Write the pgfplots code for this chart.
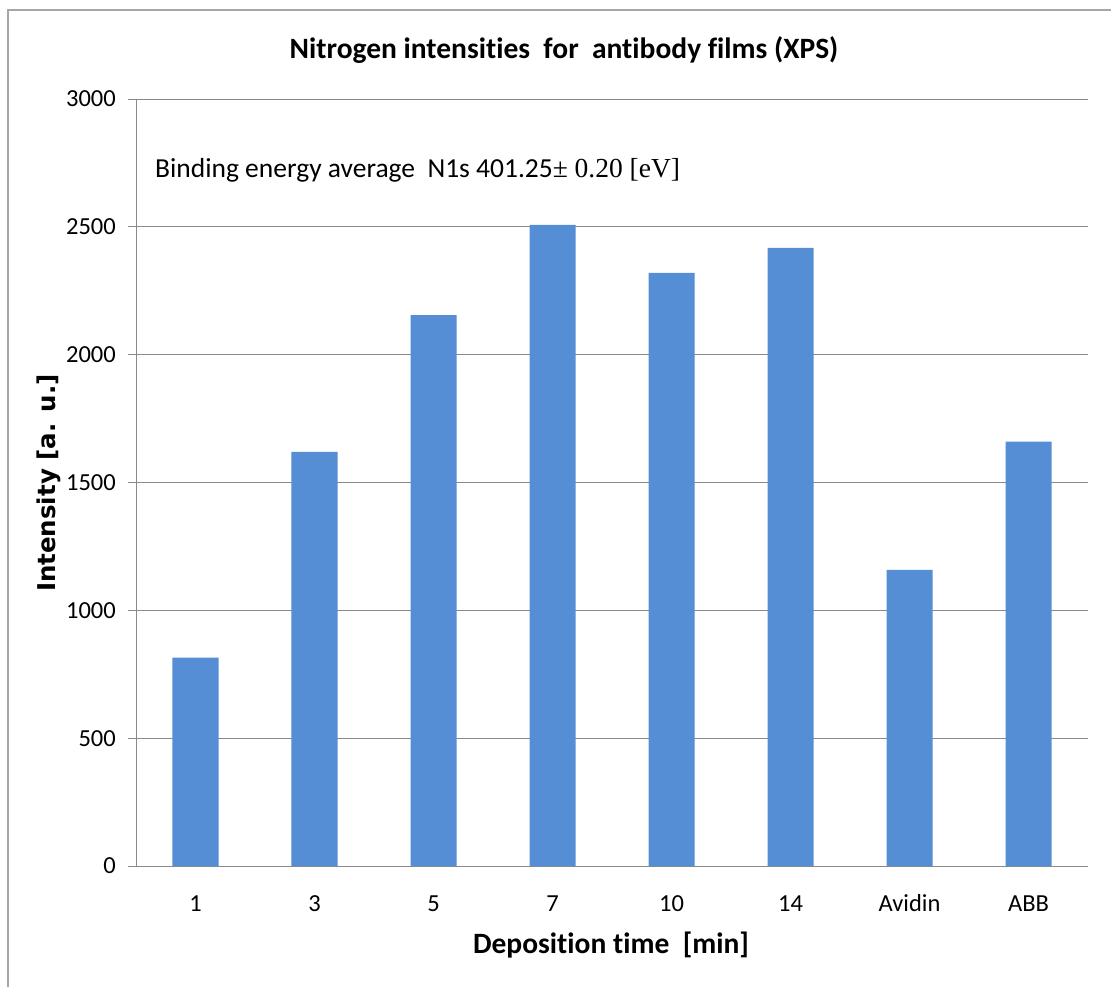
\documentclass[border=0pt]{standalone}
\usepackage{fontspec}
\setmainfont{Carlito}[Ligatures={NoCommon}]
\newfontfamily\serif{Liberation Serif}
\newfontfamily\dejavu{DejaVu Sans}
\usepackage{pgfplots}
\pgfplotsset{compat=1.18}
\definecolor{barblue}{HTML}{558ED5}
\definecolor{gridgray}{HTML}{898989}
\begin{document}
\begin{tikzpicture}[x=1pt,y=1pt]
\useasboundingbox (0,0) rectangle (1111,-987);
\fill[white] (0,0) rectangle (1111,-987);
\draw[gray!70, line width=1.5pt] (8,-987) -- (8,-10) -- (1115,-10);
\begin{axis}[
  at={(136pt,-866pt)}, anchor=south west,
  scale only axis, width=952pt, height=767pt,
  xmin=-0.5, xmax=7.5, ymin=0, ymax=3000,
  ytick={0,500,...,3000},
  xtick={0,...,7},
  xticklabels={1,3,5,7,10,14,Avidin,ABB},
  ymajorgrids, grid style={gridgray, line width=0.8pt},
  axis x line*=bottom, axis y line*=left,
  axis line style={gridgray, line width=0.8pt, -},
  x axis line style={draw=none},
  major x tick style={draw=none},
  major y tick style={gridgray, line width=0.8pt},
  tick align=outside, major tick length=8pt,
  /pgf/number format/assume math mode=true,
  /pgf/number format/1000 sep={},
  ticklabel style={font=\fontsize{24.5}{28}\selectfont, text=black},
  yticklabel style={anchor=east, inner sep=0pt, xshift=-12pt},
  xticklabel style={anchor=base, inner sep=0pt, yshift=-37pt},
  clip=false,
]
\addplot[ybar, bar width=46pt, fill=barblue, draw=none, bar shift=0pt] coordinates {
(0,815) (1,1620) (2,2155) (3,2508) (4,2320) (5,2418) (6,1158) (7,1660)
};
\end{axis}
\node[font=\bfseries\fontsize{29.5}{34}\selectfont] at (564,-50) {Nitrogen intensities\ \ for\ \ antibody films (XPS)};
\node[anchor=west, inner sep=0pt, font=\fontsize{27.5}{32}\selectfont] at (155,-170) {Binding energy average\ \ N1s 401.25{\serif± 0.20 [eV]}};
\node[rotate=90, font=\dejavu\bfseries\fontsize{24.5}{28}\selectfont] at (49,-483) {Intensity [a. u.]};
\node[font=\bfseries\fontsize{29.5}{34}\selectfont] at (611,-945) {Deposition time\ \ [min]};
\end{tikzpicture}
\end{document}
